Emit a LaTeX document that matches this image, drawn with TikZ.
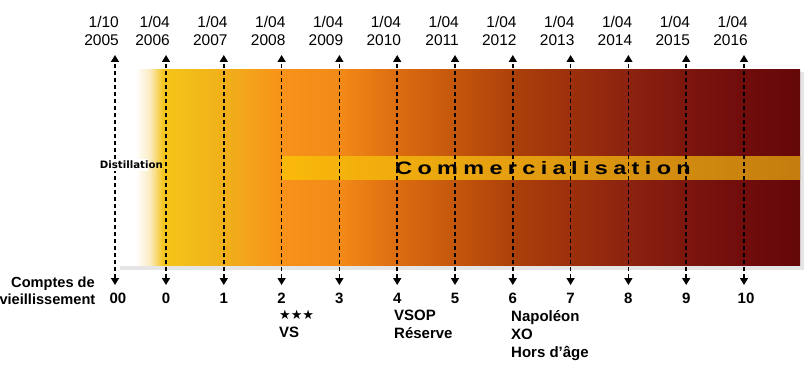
\documentclass[tikz,border=0pt]{standalone}
\usepackage{graphicx}
\usepackage{fontspec}
\setmainfont{Liberation Sans}
\newfontfamily\djv{DejaVu Sans}
\newfontfamily\commfont[LetterSpace=23]{Liberation Sans Bold}
\usetikzlibrary{arrows.meta}
\definecolor{c0}{HTML}{F4C620}
\definecolor{c1}{HTML}{F5C518}
\definecolor{c2}{HTML}{F0B01A}
\definecolor{c3}{HTML}{F8921A}
\definecolor{c4}{HTML}{F28A18}
\definecolor{c5}{HTML}{DC6C10}
\definecolor{c6}{HTML}{C4560C}
\definecolor{c7}{HTML}{AC400A}
\definecolor{c8}{HTML}{9C300C}
\definecolor{c9}{HTML}{8C2210}
\definecolor{c10}{HTML}{7C160E}
\definecolor{c11}{HTML}{700C0C}
\definecolor{c12}{HTML}{650808}
\definecolor{cream}{HTML}{FBEBC0}
\definecolor{b1}{HTML}{FAB90A}
\definecolor{b2}{HTML}{E8A210}
\definecolor{b3}{HTML}{C47D0E}
\pgfdeclarehorizontalshading{mainshade}{100bp}{color(0bp)=(white); color(25bp)=(white); color(26.3bp)=(white); color(27.35bp)=(cream); color(28.3bp)=(c0); color(28.52bp)=(c1); color(32.7bp)=(c2); color(37.02bp)=(c3); color(41.28bp)=(c4); color(45.53bp)=(c5); color(49.78bp)=(c6); color(54.03bp)=(c7); color(58.21bp)=(c8); color(62.46bp)=(c9); color(66.71bp)=(c10); color(70.89bp)=(c11); color(75bp)=(c12); color(100bp)=(c12)}
\pgfdeclarehorizontalshading{bandshade}{100bp}{color(0bp)=(b1); color(25bp)=(b1); color(44.3bp)=(b2); color(75bp)=(b3); color(100bp)=(b3)}
\tikzset{
  dashline/.style={line width=1.6pt, dash pattern=on 4pt off 3pt, draw=black, {Triangle[width=8pt,length=7pt]}-{Triangle[width=8pt,length=7pt]}},
  datelbl/.style={font=\fontsize{15.5}{18}\selectfont, align=right, inner sep=0pt, anchor=south east},
  numlbl/.style={font=\fontsize{15}{18}\selectfont\bfseries, inner sep=0pt, anchor=base},
  gradelbl/.style={font=\fontsize{15}{18}\selectfont\bfseries, align=left, inner sep=0pt, anchor=north west},
}
\begin{document}
\begin{tikzpicture}[x=1pt,y=-1pt]
\useasboundingbox (0,0) rectangle (812,369);
% shadow
\fill[black!22] (121,73) rectangle (803,268);
\fill[black!10] (120,72) rectangle (804,270);
% main gradient
\shade[shading=mainshade] (118,70) rectangle (800,265);
% commercialisation band
\shade[shading=bandshade] (282,156) rectangle (800,179);
% dashed arrows
\foreach \i/\x in {0/115,1/166,2/223.8,3/281.6,4/339.4,5/397.2,6/455,7/512.8,8/570.6,9/628.4,10/686.2,11/744}{
  \coordinate (t\i) at (\x,55);
  \coordinate (b\i) at (\x,285);
  \draw[dashline] (b\i) -- (t\i);
}
\node[inner sep=0pt] (comm) at (543,168) {\scalebox{1.3}[1]{\commfont\fontsize{18}{20}\selectfont Commercialisation}};
% distillation
\fill[white] (99,159) rectangle (148,171);
\node[font=\fontsize{10.2}{12}\djv\bfseries, inner sep=1pt, anchor=east] (dist) at (164,165) {Distillation};
% top date labels
\foreach \i/\x/\m/\y in {0/115/1\slash10/2005,1/166/1\slash04/2006,2/223.8/1\slash04/2007,3/281.6/1\slash04/2008,4/339.4/1\slash04/2009,5/397.2/1\slash04/2010,6/455/1\slash04/2011,7/512.8/1\slash04/2012,8/570.6/1\slash04/2013,9/628.4/1\slash04/2014,10/686.2/1\slash04/2015,11/744/1\slash04/2016}{
  \node[datelbl] (d\i) at (\x+4,46) {\m\\\y};
}
% bottom numbers
\foreach \i/\x/\n in {0/118/00,1/166/0,2/223.8/1,3/281.6/2,4/339.4/3,5/397.2/4,6/455/5,7/512.8/6,8/570.6/7,9/628.4/8,10/686.2/9,11/746/10}{
  \node[numlbl] (n\i) at (\x,303) {\n};
}
\node[font=\fontsize{14.6}{17}\selectfont\bfseries, inner sep=0pt, anchor=base east] (comptes) at (95,287) {Comptes de};
\node[font=\fontsize{14.6}{17}\selectfont\bfseries, inner sep=0pt, anchor=base east] (vieil) at (95.5,304) {vieillissement};
% grades
\node[gradelbl] (g2) at (279,310) {{\djv\fontsize{13}{18}\selectfont ★★★}\\VS};
\node[gradelbl] (g4) at (394,310) {VSOP\\Réserve};
\node[gradelbl] (g6) at (511,310) {Napoléon\\XO\\Hors d'âge};
\end{tikzpicture}
\end{document}
